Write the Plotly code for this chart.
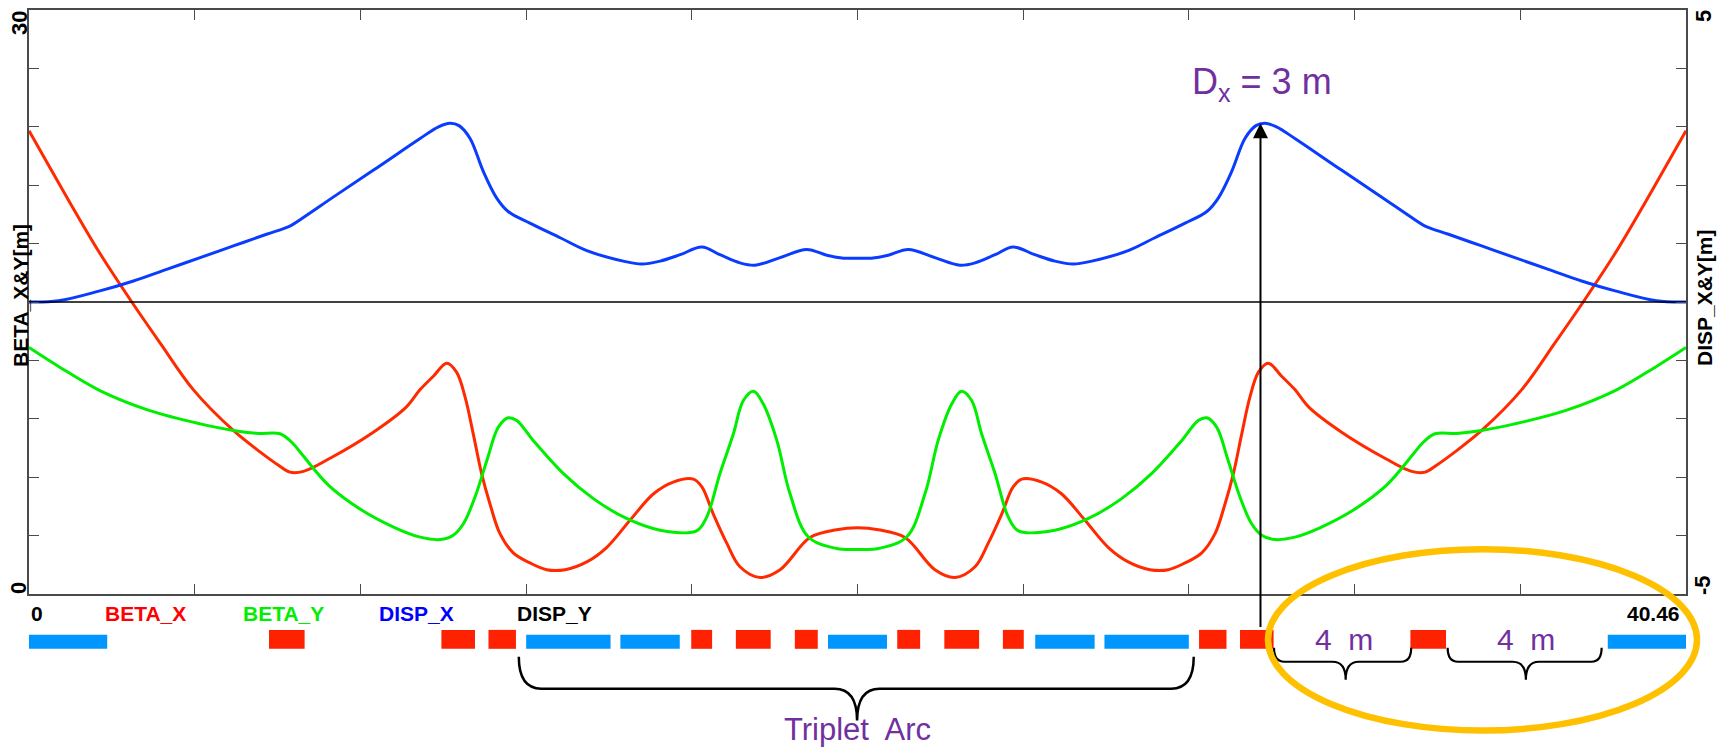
import plotly.graph_objects as go

S_MAX = 40.46

# ---------------- data ----------------
s_beta_x = [0.00, 0.35, 1.00, 1.73, 2.51, 3.20, 4.01, 4.99, 5.64, 6.10, 6.37, 6.70, 7.33, 8.40, 9.21,
            9.55, 9.88, 10.20, 10.44, 10.65, 10.85, 11.05, 11.26, 11.50, 11.83, 12.23, 12.64, 13.09,
            13.62, 14.11, 14.68, 15.25, 15.73, 16.22, 16.43, 16.71, 17.04, 17.36, 17.85, 18.34, 19.07,
            19.72, 20.23,
            20.74, 21.39, 22.12, 22.61, 23.10, 23.42, 23.75, 24.03, 24.24, 24.73, 25.21, 25.78, 26.35,
            26.84, 27.37, 27.82, 28.23, 28.63, 28.96, 29.20, 29.41, 29.61, 29.81, 30.02, 30.26, 30.58,
            30.91, 31.25, 32.06, 33.13, 33.76, 34.09, 34.36, 34.82, 35.47, 36.45, 37.26, 37.95, 38.73,
            39.46, 40.11, 40.46]
beta_x = [23.8, 22.5, 20.1, 17.5, 15.0, 12.9, 10.5, 8.4, 7.3, 6.6, 6.26, 6.3, 6.95, 8.3, 9.6,
          10.5, 11.2, 11.86, 11.4, 10.1, 8.2, 6.2, 4.6, 3.1, 2.1, 1.6, 1.25, 1.25,
          1.65, 2.4, 3.8, 5.15, 5.75, 5.9, 5.5, 4.1, 2.6, 1.4, 0.85, 1.25, 2.9,
          3.3, 3.4,
          3.3, 2.9, 1.25, 0.85, 1.4, 2.6, 4.1, 5.5, 5.9, 5.75, 5.15, 3.8, 2.4,
          1.65, 1.25, 1.25, 1.6, 2.1, 3.1, 4.6, 6.2, 8.2, 10.1, 11.4, 11.86, 11.2,
          10.5, 9.6, 8.3, 6.95, 6.3, 6.26, 6.6, 7.3, 8.4, 10.5, 12.9, 15.0, 17.5,
          20.1, 22.5, 23.8]

s_beta_y = [0.00, 0.76, 1.73, 2.95, 4.18, 4.99, 5.60, 6.13, 6.45, 6.62, 7.33, 8.13, 8.94, 9.55,
            10.04, 10.36, 10.61, 10.89, 11.18, 11.46, 11.70, 11.91, 12.31, 13.05, 13.78, 14.59,
            15.41, 16.30, 16.55, 16.87, 17.20, 17.44, 17.69, 17.93, 18.26, 18.58, 19.03, 19.72, 20.23,
            20.74, 21.43, 21.88, 22.20, 22.53, 22.77, 23.02, 23.26, 23.59, 23.91, 24.16, 25.05,
            25.87, 26.68, 27.41, 28.15, 28.55, 28.76, 29.00, 29.28, 29.57, 29.85, 30.10, 30.42,
            30.91, 31.52, 32.33, 33.13, 33.84, 34.01, 34.33, 34.86, 35.47, 36.28, 37.51, 38.73,
            39.70, 40.46]
beta_y = [12.66, 11.64, 10.45, 9.42, 8.74, 8.40, 8.25, 8.23, 7.72, 7.29, 5.55, 4.30, 3.40, 2.92,
          2.80, 3.02, 3.62, 4.98, 6.86, 8.57, 9.05, 8.91, 7.89, 6.18, 4.90, 3.88,
          3.28, 3.24, 3.96, 6.18, 8.23, 9.93, 10.41, 9.76, 7.89, 5.16, 2.93, 2.34, 2.29,
          2.34, 2.93, 5.16, 7.89, 9.76, 10.41, 9.93, 8.23, 6.18, 3.96, 3.24, 3.28,
          3.88, 4.90, 6.18, 7.89, 8.91, 9.05, 8.57, 6.86, 4.98, 3.62, 3.02, 2.80,
          2.92, 3.40, 4.30, 5.55, 7.29, 7.72, 8.23, 8.25, 8.40, 8.74, 9.42, 10.45,
          11.64, 12.66]

s_disp_x = [0.00, 0.72, 1.73, 2.55, 3.36, 4.18, 4.99, 5.80, 6.37, 6.62, 7.50, 8.50, 9.55, 10.00,
            10.28, 10.50, 10.77, 11.09, 11.42, 11.70, 12.23, 12.97, 13.62, 14.51, 14.96, 15.41,
            15.90, 16.43, 16.87, 17.36, 17.73, 18.34, 18.99, 19.48, 19.89, 20.23,
            20.57, 20.98, 21.47, 22.12, 22.73, 23.10, 23.59, 24.03, 24.56, 25.05, 25.50, 25.95,
            26.84, 27.49, 28.23, 28.76, 29.04, 29.37, 29.69, 29.96, 30.18, 30.46, 30.91, 31.96,
            32.96, 33.84, 34.09, 34.66, 35.47, 36.28, 37.10, 37.91, 38.73, 39.74, 40.46]
disp_x = [0.00, 0.02, 0.19, 0.36, 0.56, 0.76, 0.96, 1.16, 1.30, 1.41, 1.83, 2.30, 2.80, 3.00,
          3.06, 3.02, 2.80, 2.24, 1.78, 1.55, 1.35, 1.10, 0.88, 0.70, 0.65, 0.70,
          0.81, 0.94, 0.81, 0.67, 0.63, 0.76, 0.90, 0.80, 0.75, 0.75,
          0.75, 0.80, 0.90, 0.76, 0.63, 0.67, 0.81, 0.94, 0.81, 0.70, 0.65, 0.70,
          0.88, 1.10, 1.35, 1.55, 1.78, 2.24, 2.80, 3.02, 3.06, 3.00, 2.80, 2.30,
          1.83, 1.41, 1.30, 1.16, 0.96, 0.76, 0.56, 0.36, 0.19, 0.02, 0.00]

s_disp_y = [0.00, 40.46]
disp_y = [0.0, 0.0]

# lattice elements (start, end) [m]
bend_start = [0.00, 12.14, 14.44, 19.51, 24.57, 26.26, 38.55]
bend_end = [1.91, 14.20, 15.89, 20.95, 26.02, 28.32, 40.46]
quad_start = [5.86, 10.07, 11.22, 16.17, 17.26, 18.70, 21.20, 22.35, 23.78, 28.57, 29.57, 33.73]
quad_end = [6.73, 10.89, 11.89, 16.68, 18.11, 19.26, 21.76, 23.20, 24.29, 29.24, 30.39, 34.60]

legend_labels = ["BETA_X", "BETA_Y", "DISP_X", "DISP_Y"]
x_end_labels = ["0", "40.46"]
y_left_labels = ["0", "30"]
y_right_labels = ["-5", "5"]

# braces: (start, end, tip) [m]
arc_brace = (11.96, 28.44, 20.22)
gap_braces = [(30.40, 33.75, 32.15), (34.64, 38.40, 36.55)]
gap_texts_s = [32.1, 36.55]
arrow_point = (30.07, 3.06)   # s, Dx

# ---------------- style ----------------
W, H = 1723, 749
ML, MR, MT, MB = 29, 37, 8, 155
PW = W - ML - MR
PH = H - MT - MB


def px(X):
    return (X - ML) / PW


def py(Y):
    return (MT + PH - Y) / PH


RED = "#ff2a00"
GREEN = "#00ee00"
BLUE = "#0a3cff"
PURPLE = "#7030a0"
FONT = "Liberation Sans, Arial, sans-serif"
AX = "#4a4a4a"
SM = 1.0

fig = go.Figure()
fig.add_trace(go.Scatter(x=s_beta_x, y=beta_x, mode="lines", name="BETA_X",
                         line=dict(color=RED, width=3, shape="spline", smoothing=SM)))
fig.add_trace(go.Scatter(x=s_beta_y, y=beta_y, mode="lines", name="BETA_Y",
                         line=dict(color=GREEN, width=3, shape="spline", smoothing=SM)))
fig.add_trace(go.Scatter(x=s_disp_x, y=disp_x, mode="lines", name="DISP_X", yaxis="y2",
                         line=dict(color=BLUE, width=3, shape="spline", smoothing=SM)))
fig.add_trace(go.Scatter(x=s_disp_y, y=disp_y, mode="lines", name="DISP_Y", yaxis="y2",
                         line=dict(color="black", width=1.3)))

shapes = []
for a, b in zip(bend_start, bend_end):
    shapes.append(dict(type="rect", xref="x", yref="paper", x0=a, x1=b, y0=py(649), y1=py(635),
                       fillcolor="#0096ff", line=dict(width=0)))
for a, b in zip(quad_start, quad_end):
    shapes.append(dict(type="rect", xref="x", yref="paper", x0=a, x1=b, y0=py(649), y1=py(630),
                       fillcolor="#ff2200", line=dict(width=0)))


def brace_path(a, b, c, yt, yh, ytip, dxe, dxc):
    return (f"M {a},{yt} Q {a},{yh} {a + dxe},{yh} L {c - dxc},{yh} Q {c},{yh} {c},{ytip} "
            f"Q {c},{yh} {c + dxc},{yh} L {b - dxe},{yh} Q {b},{yh} {b},{yt}")


a, b, c = arc_brace
shapes.append(dict(type="path", xref="x", yref="paper",
                   path=brace_path(a, b, c, py(657), py(689), py(721), 0.55, 0.55),
                   line=dict(color="black", width=2.5)))
for a, b, c in gap_braces:
    shapes.append(dict(type="path", xref="x", yref="paper",
                       path=brace_path(a, b, c, py(648), py(662), py(680), 0.25, 0.32),
                       line=dict(color="black", width=2.2)))

shapes.append(dict(type="circle", xref="paper", yref="paper",
                   x0=px(1268), x1=px(1697), y0=py(731), y1=py(549),
                   line=dict(color="#ffc000", width=6.5)))

ann = []
bold = dict(family=FONT, size=21, color="black", weight="bold")
tick_font = dict(bold, size=22)
# rotated axis end labels
ann.append(dict(text=y_left_labels[1], xref="paper", yref="paper", x=px(19), y=py(8),
                xanchor="center", yanchor="top", textangle=-90, showarrow=False,
                font=tick_font, borderpad=0))
ann.append(dict(text=y_left_labels[0], xref="paper", yref="paper", x=px(19), y=py(595),
                xanchor="center", yanchor="bottom", textangle=-90, showarrow=False,
                font=tick_font, borderpad=0))
ann.append(dict(text=y_right_labels[1], xref="paper", yref="paper", x=px(1703), y=py(7),
                xanchor="center", yanchor="top", textangle=-90, showarrow=False,
                font=tick_font, borderpad=0))
ann.append(dict(text=y_right_labels[0], xref="paper", yref="paper", x=px(1703), y=py(596),
                xanchor="center", yanchor="bottom", textangle=-90, showarrow=False,
                font=tick_font, borderpad=0))
# axis titles
ann.append(dict(text="BETA_X&amp;Y[m]", xref="paper", yref="paper", x=px(20), y=py(295),
                xanchor="center", yanchor="middle", textangle=-90, showarrow=False,
                font=bold, borderpad=0))
ann.append(dict(text="DISP_X&amp;Y[m]", xref="paper", yref="paper", x=px(1704), y=py(297),
                xanchor="center", yanchor="middle", textangle=-90, showarrow=False,
                font=bold, borderpad=0))
# x end labels
ann.append(dict(text=x_end_labels[0], xref="paper", yref="paper", x=px(30), y=py(614),
                xanchor="left", yanchor="middle", showarrow=False, font=bold, borderpad=0))
ann.append(dict(text=x_end_labels[1], xref="paper", yref="paper", x=px(1681), y=py(614),
                xanchor="right", yanchor="middle", showarrow=False, font=bold, borderpad=0))
# legend texts
leg_colors = ["#ff0000", "#00ee00", "#0000ff", "black"]
leg_left = [104, 242, 378, 516]
for t, col, X in zip(legend_labels, leg_colors, leg_left):
    ann.append(dict(text=t, xref="paper", yref="paper", x=px(X), y=py(614),
                    xanchor="left", yanchor="middle", showarrow=False,
                    font=dict(bold, color=col), borderpad=0))
# arrow to Dx peak
s_pk, d_pk = arrow_point
y_tip_px = MT + PH * (1 - (d_pk + 5) / 10)
ann.append(dict(text="", x=s_pk, y=d_pk, xref="x", yref="y2", ax=0, ay=627 - y_tip_px,
                showarrow=True, arrowhead=2, arrowsize=1.5, arrowwidth=2, arrowcolor="black",
                standoff=0))
ann.append(dict(text="D<sub>x</sub> = 3 m", xref="paper", yref="paper", x=px(1262), y=py(82),
                xanchor="center", yanchor="middle", showarrow=False,
                font=dict(family=FONT, size=36, color=PURPLE)))
ann.append(dict(text="Triplet\u00a0 Arc", xref="x", yref="paper", x=arc_brace[2], y=py(730),
                xanchor="center", yanchor="middle", showarrow=False,
                font=dict(family=FONT, size=31, color=PURPLE), borderpad=0))
for s in gap_texts_s:
    ann.append(dict(text="4\u00a0 m", xref="x", yref="paper", x=s, y=py(640),
                    xanchor="center", yanchor="middle", showarrow=False,
                    font=dict(family=FONT, size=30, color=PURPLE)))

fig.update_layout(
    width=W, height=H, autosize=False,
    margin=dict(l=ML, r=MR, t=MT, b=MB, pad=0),
    paper_bgcolor="white", plot_bgcolor="white",
    showlegend=False,
    xaxis=dict(range=[0, S_MAX], showgrid=False, zeroline=False, showline=True,
               linecolor=AX, linewidth=2, mirror="ticks", ticks="inside", ticklen=10,
               tickwidth=1.2, tickcolor=AX, tickvals=[S_MAX * i / 10 for i in range(1, 10)],
               showticklabels=False),
    yaxis=dict(range=[0, 30], showgrid=False, zeroline=False, showline=True,
               linecolor=AX, linewidth=2, mirror="ticks", ticks="inside", ticklen=10,
               tickwidth=1.2, tickcolor=AX, tickvals=list(range(3, 30, 3)),
               showticklabels=False),
    yaxis2=dict(range=[-5, 5], overlaying="y", side="right", showgrid=False, zeroline=False,
                showline=False, ticks="", showticklabels=False),
    shapes=shapes,
    annotations=ann,
)

fig.write_html("out.html")
